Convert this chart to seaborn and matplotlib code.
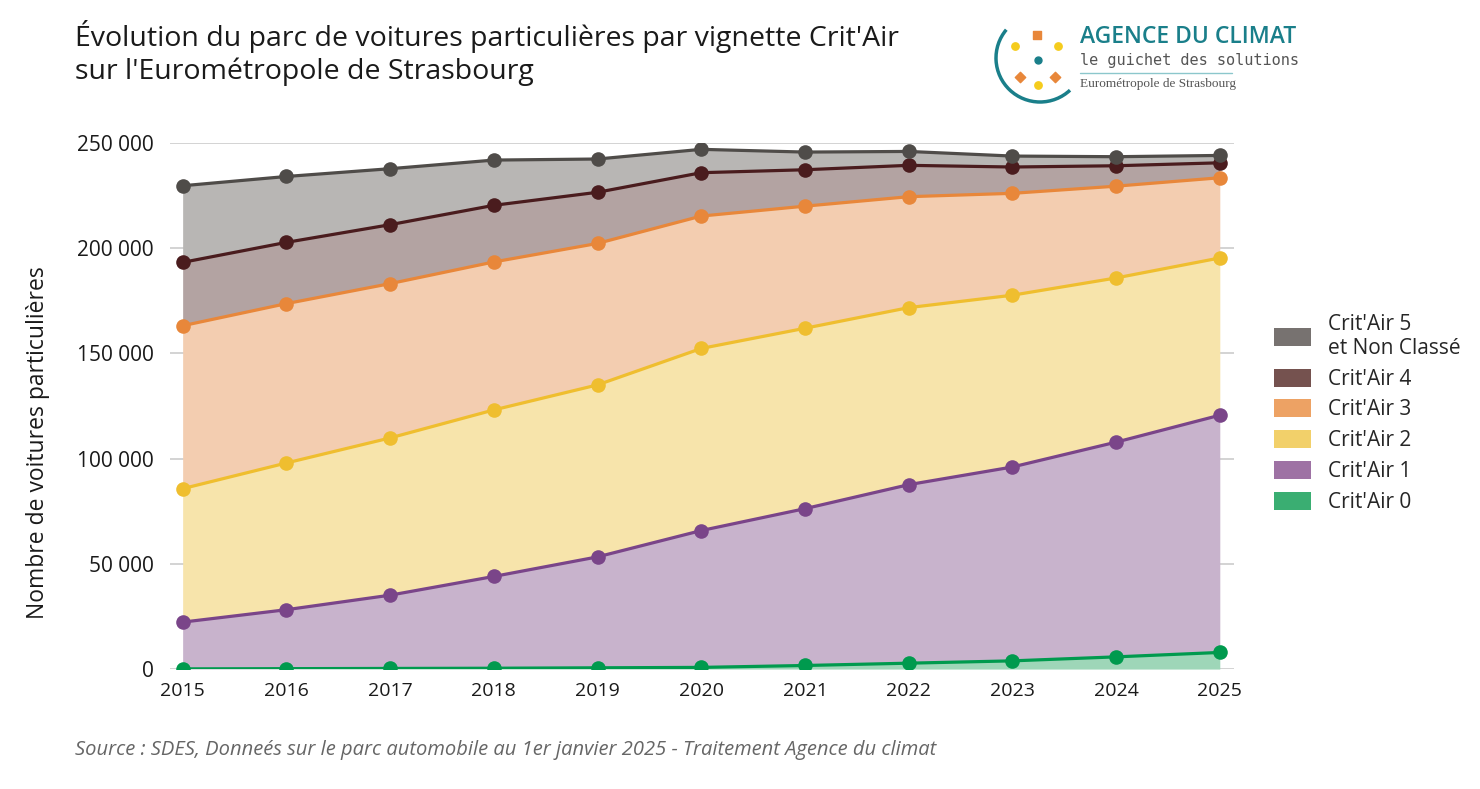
### Import Libraries

import numpy as np
import pandas as pd
import matplotlib.pyplot as plt
import seaborn as sns
from matplotlib.patches import Patch, Arc
from matplotlib.ticker import FuncFormatter

### Data (number of private cars per Crit'Air sticker)

years = [2015, 2016, 2017, 2018, 2019, 2020, 2021, 2022, 2023, 2024, 2025]
critair_0 = [100, 200, 300, 400, 600, 800, 1700, 2800, 3900, 5800, 7900]
critair_1 = [22200, 28000, 34800, 43600, 52700, 65000, 74500, 84800, 92100, 102000, 112700]
critair_2 = [63400, 69700, 74700, 79100, 81700, 86500, 85700, 84100, 81600, 78000, 74700]
critair_3 = [77400, 75700, 73300, 70300, 67200, 62900, 58000, 52700, 48400, 43600, 38100]
critair_4 = [30100, 29100, 28000, 26900, 24300, 20600, 17300, 14900, 12500, 9700, 7100]
critair_5 = [36400, 31300, 26600, 21500, 15800, 11100, 8400, 6600, 5200, 4300, 3500]

labels = ["Crit'Air 0", "Crit'Air 1", "Crit'Air 2", "Crit'Air 3", "Crit'Air 4",
          "Crit'Air 5\net Non Classé"]
line_colors = ["#009a4e", "#7a4589", "#efbe2f", "#e8873a", "#4a1c1e", "#4f4c49"]
fill_colors = ["#9ed6b8", "#c8b3cc", "#f7e4ab", "#f3cdb0", "#b3a3a2", "#b8b6b4"]
legend_colors = ["#3aae72", "#9e72a4", "#f2d06a", "#eda264", "#75524f", "#777270"]

df = pd.DataFrame({"year": years, "c0": critair_0, "c1": critair_1, "c2": critair_2,
                   "c3": critair_3, "c4": critair_4, "c5": critair_5})
cols = ["c0", "c1", "c2", "c3", "c4", "c5"]
cum = df[cols].cumsum(axis=1)

### Plot

sns.set_theme(style="white")
plt.rcParams['font.family'] = ['Open Sans', 'DejaVu Sans']

fig = plt.figure(figsize=(14.8, 7.89), dpi=100)
ax = fig.add_axes([0.115, 0.152, 0.719, 0.667])

# stacked fills
prev = np.zeros(len(years))
for i, c in enumerate(cols):
    ax.fill_between(df["year"], prev, cum[c], color=fill_colors[i], linewidth=0, zorder=1)
    prev = cum[c].values

# lines with markers
for i, c in enumerate(cols):
    sns.lineplot(x=df["year"], y=cum[c], marker="o", color=line_colors[i], linewidth=2.3,
                 markersize=10.5, markeredgewidth=0, ax=ax, zorder=3 + i)

ax.set_xlim(2014.88, 2025.14)
ax.set_ylim(0, 250000)
ax.set_xticks(years)
ax.set_yticks([0, 50000, 100000, 150000, 200000, 250000])
ax.yaxis.set_major_formatter(FuncFormatter(lambda v, p: f"{int(v):,}".replace(",", " ")))
ax.tick_params(axis="both", labelsize=14, colors="#1a1a1a", length=0)
ax.tick_params(axis="y", labelsize=15, pad=12)
ax.tick_params(axis="x", pad=9)
ax.grid(axis="y", color="#cccccc", linewidth=1.2, zorder=0)
ax.set_axisbelow(True)
for s in ax.spines.values():
    s.set_visible(False)
ax.set_xlabel("")
ax.set_ylabel("Nombre de voitures particulières", fontsize=16.5, color="#1a1a1a")
ax.yaxis.set_label_coords(-0.113, 0.43)

# legend (top to bottom: Crit'Air 5 ... Crit'Air 0)
handles = [Patch(facecolor=legend_colors[i], edgecolor="none") for i in range(6)][::-1]
fig.legend(handles, labels[::-1], loc="upper left", bbox_to_anchor=(0.848, 0.626),
           frameon=False, fontsize=15, handlelength=1.8, handleheight=0.95,
           handletextpad=0.8, labelspacing=0.46)

# title and source
fig.text(0.051, 0.975, "Évolution du parc de voitures particulières par vignette Crit'Air\n"
         "sur l'Eurométropole de Strasbourg", fontsize=20.5, color="#1a1a1a",
         va="top", ha="left", linespacing=1.22)
fig.text(0.051, 0.05, "Source : SDES, Donneés sur le parc automobile au 1er janvier 2025 - "
         "Traitement Agence du climat", fontsize=14.5, style="italic", color="#666666",
         va="center", ha="left")

# logo (drawn in a small pixel-scaled axes centred on the emblem)
lax = fig.add_axes([(1040 - 55) / 1480, 1 - (58 + 55) / 789, 110 / 1480, 110 / 789])
lax.set_xlim(-55, 55)
lax.set_ylim(-55, 55)
lax.axis("off")
lax.add_patch(Arc((0, 0), 88, 88, theta1=140, theta2=313, color="#1a7f8a", lw=2.5))
lax.scatter([-3], [23], marker="s", s=30, color="#e8873a")
lax.scatter([-25, 18, -2], [12, 12, -27], s=28, color="#f5cc1d")
lax.scatter([-2], [-2], s=25, color="#1a7f8a")
lax.scatter([-20, 15], [-19, -19], marker="D", s=28, color="#e8873a")

fig.text(1080 / 1480, 1 - 37 / 789, "AGENCE DU CLIMAT", fontsize=16.5, color="#1a7f8a",
         weight="semibold", va="center", ha="left")
fig.text(1080 / 1480, 1 - 60 / 789, "le guichet des solutions", fontsize=11,
         family=["DejaVu Sans Mono", "DejaVu Sans"], color="#555555", va="center", ha="left")
fig.add_artist(plt.Line2D([1080 / 1480, 1232 / 1480], [1 - 73 / 789, 1 - 73 / 789],
                          color="#8cc7cc", lw=1))
fig.text(1080 / 1480, 1 - 84 / 789, "Eurométropole de Strasbourg", fontsize=9.5,
         family=["Liberation Serif", "DejaVu Serif"], color="#555555", va="center", ha="left")

plt.savefig("out.png", dpi=100)
